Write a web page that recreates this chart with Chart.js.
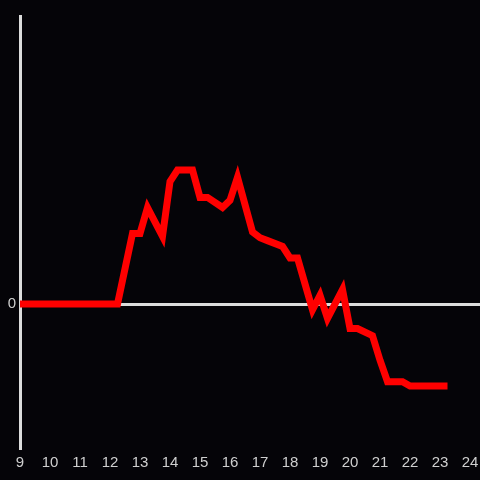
<!DOCTYPE html>
<html>
<head>
<meta charset="utf-8">
<script src="https://cdn.jsdelivr.net/npm/chart.js@4/dist/chart.umd.min.js"></script>
<style>
  html, body { margin: 0; padding: 0; background: #050408; }
  #wrap { width: 480px; height: 480px; }
</style>
</head>
<body>
<div id="wrap"><canvas id="c"></canvas></div>
<script>
// Hours of day (x) and the value (y), vertices only.
const hours = [9, 12.25, 12.75, 13, 13.25, 13.75, 14, 14.25, 14.75, 15, 15.25, 15.75,
  16, 16.25, 16.75, 17, 17.25, 17.75, 18, 18.25, 18.75, 19, 19.25, 19.75, 20,
  20.25, 20.75, 21, 21.25, 21.75, 22, 23.25];
const values = [0, 0, 0.49, 0.49, 0.67, 0.47, 0.85, 0.93, 0.93, 0.74, 0.74, 0.67,
  0.72, 0.88, 0.50, 0.46, 0.44, 0.40, 0.32, 0.32, -0.04, 0.06, -0.10, 0.10, -0.17,
  -0.17, -0.22, -0.39, -0.54, -0.54, -0.57, -0.57];
const xTicks = [9, 10, 11, 12, 13, 14, 15, 16, 17, 18, 19, 20, 21, 22, 23, 24];

const AXIS = '#dcdcdc';
const LABEL = '#cfcfcf';

new Chart(document.getElementById('c').getContext('2d'), {
  type: 'line',
  data: {
    datasets: [{
      data: hours.map((h, i) => ({ x: h, y: values[i] })),
      borderColor: '#ff0000',
      borderWidth: 7,
      pointRadius: 0,
      tension: 0,
      fill: false,
    }],
  },
  options: {
    responsive: true,
    maintainAspectRatio: false,
    animation: false,
    layout: { padding: { top: 16, right: 0, left: 0, bottom: 0 } },
    plugins: { legend: { display: false }, tooltip: { enabled: false } },
    scales: {
      x: {
        type: 'linear',
        min: 9, max: 24.333,
        afterBuildTicks: s => { s.ticks = xTicks.map(v => ({ value: v })); },
        afterFit: s => { s.height = 32; s.paddingLeft = 0; s.paddingRight = 0; },
        grid: { display: false, drawTicks: false },
        border: { display: false },
        ticks: { color: LABEL, font: { family: 'Liberation Sans, Arial, sans-serif', size: 15 },
                 padding: 6, maxRotation: 0, autoSkip: false },
      },
      y: {
        min: -1, max: 2,
        afterBuildTicks: s => { s.ticks = [{ value: 0 }]; },
        afterFit: s => { s.width = 20; s.paddingTop = 0; s.paddingBottom = 0; },
        grid: {
          drawTicks: false,
          color: c => c.tick && c.tick.value === 0 ? AXIS : 'transparent',
          lineWidth: 3,
        },
        border: { display: true, color: AXIS, width: 3 },
        ticks: { color: LABEL, font: { family: 'Liberation Sans, Arial, sans-serif', size: 15 },
                 padding: 4, callback: v => v === 0 ? '0' : '' },
      },
    },
  },
});
</script>
</body>
</html>
